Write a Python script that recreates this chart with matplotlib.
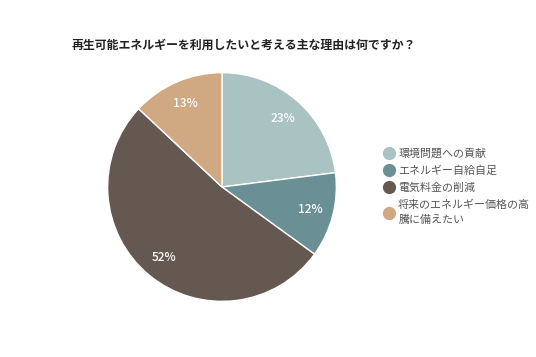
import matplotlib
matplotlib.use("Agg")
import matplotlib.pyplot as plt
from matplotlib.lines import Line2D

plt.rcParams['font.family'] = ['Noto Sans CJK JP', 'DejaVu Sans']

# data
title = "再生可能エネルギーを利用したいと考える主な理由は何ですか？"
labels = ["環境問題への貢献", "エネルギー自給自足", "電気料金の削減", "将来のエネルギー価格の高\n騰に備えたい"]
values = [23, 12, 52, 13]
colors = ["#a9c2c2", "#6a8f94", "#645850", "#d0a882"]

W, H = 536, 357
fig = plt.figure(figsize=(W / 100, H / 100), dpi=100)
fig.patch.set_facecolor("white")

# pie axes: centre (222,187) px, radius ~115 px
cx, cy, r = 222, 187, 115.5
ax = fig.add_axes([(cx - r) / W, 1 - (cy + r) / H, 2 * r / W, 2 * r / H])
wedges, texts, autotexts = ax.pie(
    values, colors=colors, startangle=90, counterclock=False,
    autopct=lambda p: f"{p:.0f}%", pctdistance=0.8,
    wedgeprops=dict(edgecolor="white", linewidth=1),
    textprops=dict(color="white", fontsize=8.6, fontweight="medium"),
)
ax.set_xlim(-1.01, 1.01)
ax.set_ylim(-1.01, 1.01)
ax.set_aspect("equal")

fig.text(72 / W, 1 - 45 / H, title, fontsize=8.6, fontweight="bold",
         color="#222222", va="center", ha="left")

handles = [Line2D([0], [0], marker="o", linestyle="", markersize=8.5,
                  markerfacecolor=c, markeredgecolor=c) for c in colors]
leg = fig.legend(handles, labels, loc="upper left",
                 bbox_to_anchor=(379 / W, 1 - 143 / H), frameon=False,
                 fontsize=7.9, labelcolor="#555555", handlelength=0.8,
                 handletextpad=0.45, labelspacing=0.62, borderpad=0)
for t in leg.get_texts():
    t.set_linespacing(1.55)

fig.savefig("out.png", dpi=100, facecolor="white")
